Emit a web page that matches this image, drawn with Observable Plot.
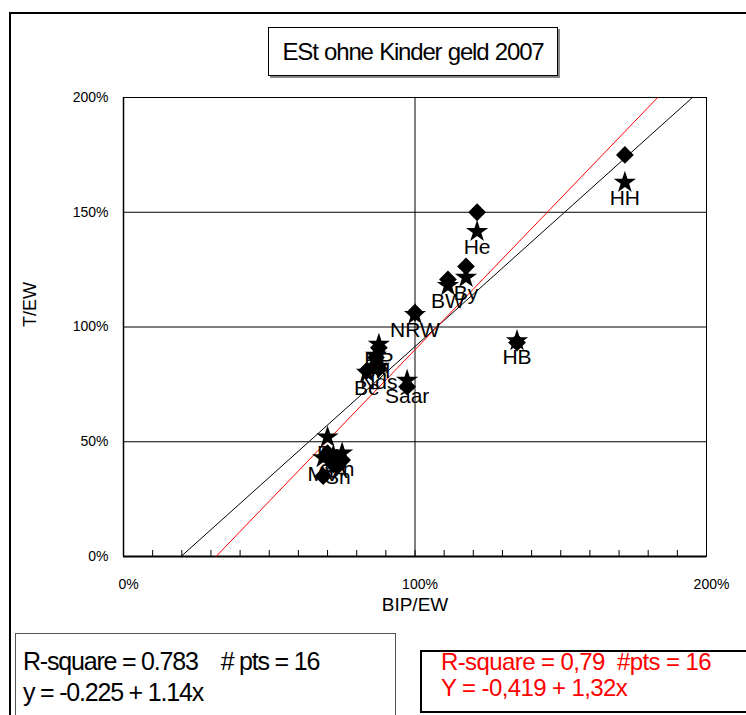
<!DOCTYPE html>
<html>
<head>
<meta charset="utf-8">
<script src="https://cdn.jsdelivr.net/npm/d3@7"></script>
<script src="https://cdn.jsdelivr.net/npm/@observablehq/plot@0.6"></script>
<style>
  html, body { margin: 0; padding: 0; background: #fff; }
  #wrap { position: relative; width: 746px; height: 715px; overflow: hidden; font-family: "Liberation Sans", Arial, sans-serif; }
  #wrap svg { position: absolute; left: 0; top: 0; }
  .abs { position: absolute; box-sizing: border-box; }
  #outer { left: 9px; top: 12px; width: 900px; height: 900px; border-top: 2px solid #000; border-left: 2px solid #000; }
  #title { left: 268px; top: 27px; width: 290px; height: 49px; border: 1px solid #000; box-shadow: 2px 2px 0 #888; background: #fff;
           font-size: 24px; letter-spacing: -1.2px; word-spacing: 1px; text-align: center; line-height: 47px; }
  #statsL { left: 15px; top: 633px; width: 381px; height: 120px; border: 1px solid #555; font-size: 25px; letter-spacing: -1.2px; }
  #statsR { left: 420px; top: 650px; width: 360px; height: 63px; border: 2px solid #000; color: #ff0000; font-size: 24px; letter-spacing: -0.6px; }
  .ln { position: absolute; white-space: pre; }
</style>
</head>
<body>
<div id="wrap"></div>
<script>
// ---- data ----
const states   = ["HH", "He", "By", "BW", "NRW", "HB", "Saar", "RP", "SH", "Nds", "Be", "Br", "MV", "SA", "Sn", "Th"];
const bipEW    = [172, 121.3, 117.5, 111.3, 100, 135, 97.3, 87.6, 86.6, 87.6, 83.5, 70, 68.5, 72, 73.5, 75];      // x (%)
const tewDiamond = [175, 150, 126.4, 120.7, 106.3, 93.2, 74, 91, 86.7, 81.9, 81, 45, 35, 40, 39.5, 42];        // y (%), diamonds
const tewStar    = [163, 141.6, 121.6, 118, 105.4, 94, 76.7, 92.4, 87.6, 82.8, 80.2, 52, 43, 44, 41.5, 45];     // y (%), stars
const yTicks = [0, 50, 100, 150, 200];
const xTicks = [0, 100, 200];
const xMinor = d3.range(0, 201, 10);
const gridY = [50, 100, 150];
const gridX = [100];
// regression fits (as printed in the boxes)
const fitNames = ["black", "red"];
const fitIntercept = [-0.225, -0.419];
const fitSlope = [1.14, 1.32];
const fitColor = ["#000000", "#ff0000"];

const points = states.map((s, i) => ({state: s, x: bipEW[i], yd: tewDiamond[i], ys: tewStar[i]}));
// fit lines clipped to y in [0, 200%]
const fitLines = [];
fitNames.forEach((n, i) => {
  [0, 2].forEach(yv => fitLines.push({fit: n, x: (yv - fitIntercept[i]) / fitSlope[i] * 100, y: yv * 100}));
});

const chart = Plot.plot({
  width: 746, height: 715,
  marginLeft: 123, marginRight: 40, marginTop: 97, marginBottom: 159,
  x: {domain: [0, 200]},
  y: {domain: [0, 200]},
  style: {fontFamily: '"Liberation Sans", Arial, sans-serif', color: "#000", background: "transparent"},
  marks: [
    Plot.ruleY(gridY, {stroke: "#000", strokeWidth: 1}),
    Plot.ruleX(gridX, {stroke: "#000", strokeWidth: 1}),
    Plot.ruleX(xMinor, {stroke: "#000", strokeWidth: 1, insetTop: 453}),
    Plot.frame({stroke: "#000", strokeWidth: 1}),
    Plot.ruleY([0], {stroke: "#000", strokeWidth: 2}),
    Plot.ruleX([0], {stroke: "#000", strokeWidth: 1.5}),
    Plot.line(fitLines, {x: "x", y: "y", z: "fit", stroke: d => fitColor[fitNames.indexOf(d.fit)], strokeWidth: 1}),
    Plot.dot(points, {x: "x", y: "yd", symbol: "diamond2", r: 8, fill: "#000", stroke: "none"}),
    Plot.dot(points, {x: "x", y: "ys", symbol: "star", r: 7, fill: "#000", stroke: "none"}),
    Plot.text(points, {x: "x", y: "ys", text: "state", dy: 16, fontSize: 21, fill: "#000", lineAnchor: "middle"}),
    Plot.axisY({ticks: yTicks, tickSize: 0, tickPadding: 15, tickFormat: d => d + "%", label: null, fontSize: 14, style: {letterSpacing: "0.6px"}}),
    Plot.axisX({ticks: xTicks, tickSize: 0, tickPadding: 23, dx: 5, tickFormat: d => d + "%", label: null, fontSize: 14, style: {letterSpacing: "0.6px"}}),
    Plot.text(["T/EW"], {frameAnchor: "left", dx: -93, rotate: -90, fontSize: 18}),
    Plot.text(["BIP/EW"], {frameAnchor: "bottom", dy: 54, fontSize: 19})
  ]
});

const wrap = document.getElementById("wrap");
wrap.appendChild(chart);
wrap.insertAdjacentHTML("beforeend", `
  <div class="abs" id="outer"></div>
  <div class="abs" id="title">ESt ohne Kinder geld 2007</div>
  <div class="abs" id="statsL">
    <div class="ln" style="left:7px; top:13px;">R-square = 0.783    # pts = 16</div>
    <div class="ln" style="left:7px; top:44px;">y = -0.225 + 1.14x</div>
  </div>
  <div class="abs" id="statsR">
    <div class="ln" style="left:19px; top:-4px;">R-square = 0,79  #pts = 16</div>
    <div class="ln" style="left:19px; top:22px;">Y = -0,419 + 1,32x</div>
  </div>
`);
</script>
</body>
</html>
